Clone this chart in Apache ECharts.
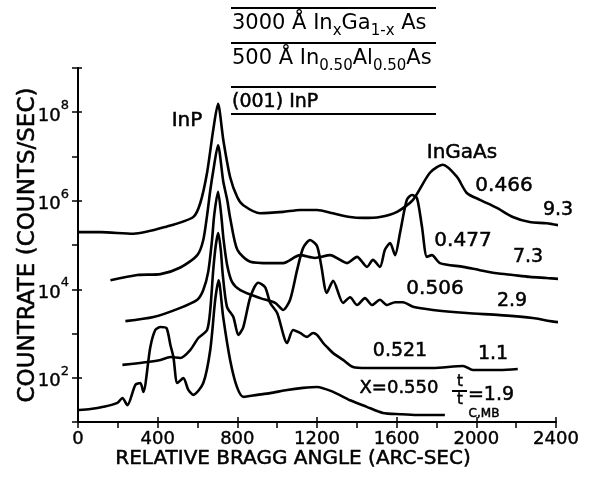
<!DOCTYPE html>
<html>
<head>
<meta charset="utf-8">
<script src="https://cdn.jsdelivr.net/npm/echarts@6.0.0/dist/echarts.min.js"></script>
<style>
html, body { margin: 0; background: #fff; }
#chart { width: 589px; height: 481px; }
</style>
</head>
<body>
<div id="chart"></div>
<script>
// relative Bragg angle (arc-sec) and count rate (counts/sec) for each sample
var angle466 = [0,113,278,444,579,614,648,679,703,730,764,800,830,915,1030,1115,1200,1280,1366,1431,1516,1602,1682,1767,1832,1902,1952,2018,2103,2183,2268,2353,2434,2494];
var rate466 = [1.95e5,1.95e5,1.8e5,2.6e5,4.3e5,8.9e5,4.3e6,4e7,1.55e8,2.3e7,3.4e6,1.2e6,7.9e5,5.2e5,5.6e5,6.2e5,6.2e5,5.2e5,4.3e5,4.1e5,4.3e5,5.6e5,1.05e6,4.3e6,6.5e6,3.5e6,1.5e6,1.05e6,6.9e5,4.3e5,3.3e5,3.1e5,2.7e5,2.4e5];

var angle477 = [163,298,414,514,599,629,649,664,679,703,729,749,764,800,865,965,1030,1115,1190,1266,1351,1401,1451,1481,1516,1541,1567,1592,1617,1651,1677,1702,1727,1752,1777,1817,1934,2018,2103,2183,2268,2353,2434,2494];
var rate477 = [1.6e4,2.1e4,2.2e4,3.1e4,5.9e4,1.3e5,5e5,1.7e6,4.7e6,1.8e7,2.8e6,1.05e6,4.1e5,7.8e4,4.2e4,3.9e4,3.9e4,5.9e4,5.1e4,5.9e4,3.9e4,5.4e4,3.2e4,4.6e4,3.2e4,7.8e4,1.1e5,5.9e4,1.9e5,1.05e6,1.35e6,1.15e6,2.6e5,5.4e4,5.9e4,3.9e4,3.2e4,2.7e4,2.3e4,2.1e4,1.9e4,1.8e4,1.7e4,1.8e4];

var angle506 = [238,379,514,599,629,654,673,684,703,719,731,749,774,815,915,990,1030,1065,1100,1130,1165,1200,1221,1249,1281,1331,1366,1401,1441,1476,1516,1551,1592,1632,1682,1782,1952,2118,2283,2419,2504];
var rate506 = [1900,2350,3800,5800,9600,2.5e4,1.3e5,4.8e5,1.6e6,4.8e5,1.3e5,3.5e4,1.45e4,9600,6300,4900,3400,5800,2.7e4,8.5e4,1.3e5,9.5e4,3.5e4,8300,1.55e4,4900,6600,4400,6300,4400,5800,4400,5100,5100,4000,3400,2900,2600,2240,1800,1800];

var angle521 = [223,348,414,464,514,564,604,648,664,679,692,704,717,727,748,780,805,830,865,905,940,965,1000,1050,1080,1115,1150,1180,1200,1231,1251,1281,1331,1381,1450,1617,1782,1933,1983,2118,2208];
var rate521 = [195,227,253,295,280,425,790,1200,3400,2.7e4,1e5,1.86e5,7.7e4,2.1e4,4000,2350,930,1400,6600,1.4e4,1.1e4,4900,2900,610,1200,1030,840,1030,930,610,490,360,253,175,166,166,166,185,150,150,158];

var angle550 = [3,63,128,198,223,248,288,313,328,363,388,414,444,464,479,499,529,554,579,629,664,689,706,729,764,798,830,900,965,1050,1130,1200,1281,1366,1450,1531,1617,1702,1842];
var rate550 = [18.6,19.6,22,27,35,24,69,76,48,490,1200,1400,1330,550,295,76,98,53,41,76,425,5800,16000,2350,250,62,37,41,45,53,59,62,48,31,22,16,15,14.4,14.4];

var xTicks = [0, 400, 800, 1200, 1600, 2000, 2400];

var FONT = 'DejaVu Sans';
var INK = '#000';

function pairs(xs, ys) {
  return xs.map(function (x, i) { return [x, ys[i]]; });
}

function curve(name, xs, ys) {
  return {
    name: name,
    type: 'line',
    data: pairs(xs, ys),
    showSymbol: false,
    smooth: 0.25,
    clip: false,
    silent: true,
    lineStyle: { color: INK, width: 2.6 }
  };
}

function label(text, x, y, size, align) {
  return {
    type: 'text',
    style: {
      text: text, x: x, y: y,
      font: (size || 20) + 'px "' + FONT + '"',
      fill: INK, stroke: INK, lineWidth: 0.5,
      align: align || 'center', textAlign: align || 'center',
      verticalAlign: 'middle', textVerticalAlign: 'middle'
    }
  };
}

function rule(x1, y1, x2, y2) {
  return { type: 'line', shape: { x1: x1, y1: y1, x2: x2, y2: y2 }, style: { stroke: INK, lineWidth: 2 } };
}

var subRich = {
  m: { fontSize: 21, fontFamily: FONT, lineHeight: 21, verticalAlign: 'top' },
  s: { fontSize: 15, fontFamily: FONT, lineHeight: 15, verticalAlign: 'top', padding: [11, 0, 0, 0] }
};

function layerText(text, x, y) {
  return {
    type: 'text',
    style: {
      text: text, x: x, y: y, rich: subRich,
      fill: INK,
      align: 'left', textAlign: 'left',
      verticalAlign: 'top', textVerticalAlign: 'top'
    }
  };
}

var chart = echarts.init(document.getElementById('chart'), null, { renderer: 'canvas' });

chart.setOption({
  animation: false,
  backgroundColor: '#fff',
  grid: { left: 78, right: 33, top: 68, bottom: 59 },
  xAxis: [{
    type: 'value',
    min: 0, max: 2400, interval: 400,
    axisLine: { lineStyle: { color: INK, width: 2 } },
    axisTick: { inside: true, length: 5, lineStyle: { color: INK, width: 1.5 } },
    axisLabel: {
      color: INK, fontFamily: FONT, fontSize: 18, margin: 8,
      textBorderColor: INK, textBorderWidth: 0.4,
      formatter: function (v) { return xTicks.indexOf(v) >= 0 ? String(v) : ''; }
    },
    splitLine: { show: false }
  }, {
    type: 'value',
    min: 0, max: 2400, interval: 200,
    position: 'bottom', offset: 0,
    axisLine: { show: false },
    axisTick: { length: 6, lineStyle: { color: INK, width: 1.5 } },
    axisLabel: { show: false },
    splitLine: { show: false }
  }],
  yAxis: [{
    type: 'log',
    logBase: 10,
    min: 10, max: 1e9,
    splitNumber: 8,
    name: 'COUNTRATE (COUNTS/SEC)',
    nameLocation: 'middle', nameGap: 38, nameRotate: 90,
    nameMoveOverlap: false,
    nameTextStyle: { fontFamily: FONT, fontSize: 23, color: INK, textBorderColor: INK, textBorderWidth: 0.5 },
    axisLine: { show: true, lineStyle: { color: INK, width: 2 } },
    axisTick: { show: true, length: 6, lineStyle: { color: INK, width: 1.5 } },
    axisLabel: {
      margin: 9,
      formatter: function (v) {
        var e = Math.round(Math.log10(v));
        return e % 2 === 0 ? '{b|10}{p|' + e + '}' : '';
      },
      rich: {
        b: { fontSize: 18, fontFamily: FONT, color: INK, textBorderColor: INK, textBorderWidth: 0.4, verticalAlign: 'top', padding: [8, 0, 0, 0] },
        p: { fontSize: 13, fontFamily: FONT, color: INK, textBorderColor: INK, textBorderWidth: 0.3, verticalAlign: 'top' }
      }
    },
    splitLine: { show: false }
  }, {
    // inner half of the labelled decade ticks
    type: 'log',
    logBase: 100,
    min: 10, max: 1e9,
    splitNumber: 4,
    position: 'left',
    axisLine: { show: false },
    axisTick: { show: true, inside: true, length: 4, lineStyle: { color: INK, width: 1.5 } },
    axisLabel: { show: false },
    splitLine: { show: false }
  }],
  series: [
    curve('0.466', angle466, rate466),
    curve('0.477', angle477, rate477),
    curve('0.506', angle506, rate506),
    curve('0.521', angle521, rate521),
    curve('0.550', angle550, rate550)
  ],
  graphic: [
    rule(231, 8, 436, 8),
    rule(231, 43, 436, 43),
    rule(231, 87, 436, 87),
    rule(231, 114, 436, 114),
    layerText('{m|3000 Å In}{s|x}{m|Ga}{s|1-x}{m| As}', 232, 13),
    layerText('{m|500 Å In}{s|0.50}{m|Al}{s|0.50}{m|As}', 232, 48),
    label('(001) InP', 232, 102, 19, 'left'),
    label('RELATIVE BRAGG ANGLE (ARC-SEC)', 293, 459, 20),
    label('InP', 187, 121),
    label('InGaAs', 462, 153),
    label('0.466', 504, 186),
    label('9.3', 558, 210, 19),
    label('0.477', 463, 241),
    label('7.3', 528, 257, 19),
    label('0.506', 435, 289),
    label('2.9', 512, 301, 19),
    label('0.521', 400, 351, 19),
    label('1.1', 493, 354, 19),
    label('X=0.550', 399, 388, 18),
    label('t', 460, 382, 15),
    rule(452, 391, 467, 391),
    label('t', 460, 400, 15),
    label('C,MB', 484, 414, 12),
    label('=1.9', 491, 395, 19)
  ]
});
</script>
</body>
</html>
